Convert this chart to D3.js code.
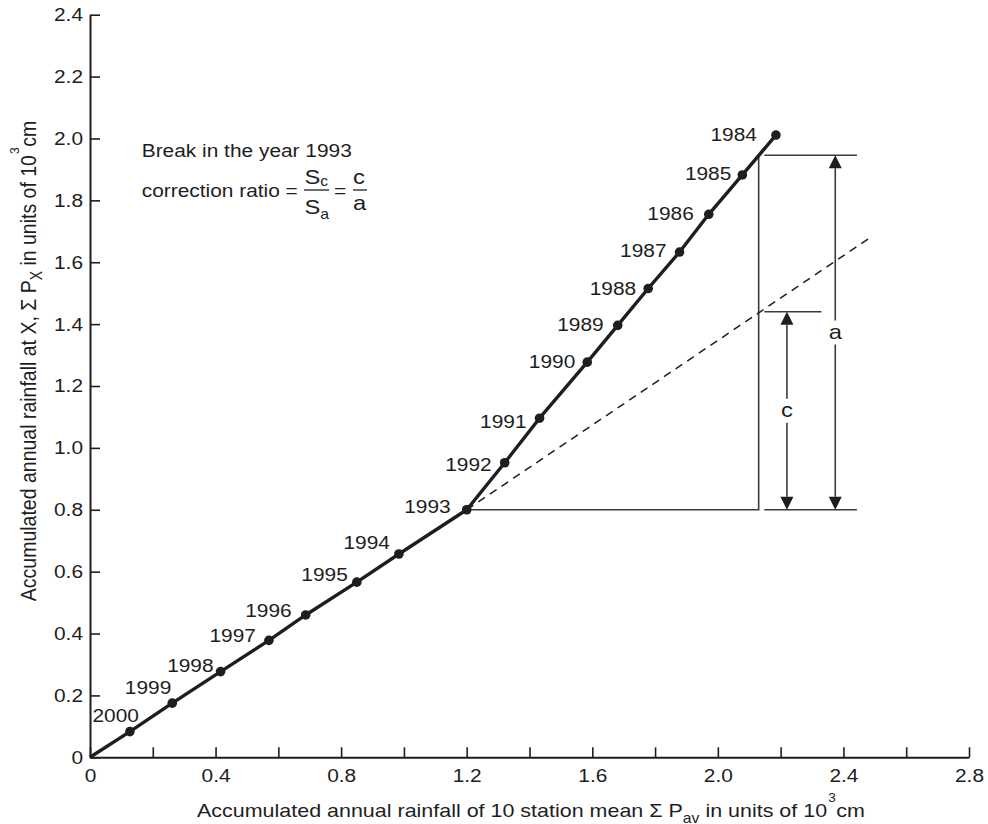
<!DOCTYPE html>
<html>
<head>
<meta charset="utf-8">
<script src="https://cdn.jsdelivr.net/npm/d3@7"></script>
<style>
  body { margin: 0; background: #fff; }
  svg { display: block; }
</style>
</head>
<body>
<svg id="chart" width="988" height="824"></svg>
<script>
// Double-mass curve: station X against the 10-station mean (units of 10^3 cm)
const years = [2000, 1999, 1998, 1997, 1996, 1995, 1994, 1993, 1992,
               1991, 1990, 1989, 1988, 1987, 1986, 1985, 1984];
const stationMean = [0.127, 0.262, 0.416, 0.570, 0.687, 0.850, 0.984, 1.200, 1.321,
                     1.432, 1.584, 1.681, 1.778, 1.878, 1.971, 2.078, 2.185];
const stationX = [0.083, 0.175, 0.277, 0.378, 0.460, 0.566, 0.657, 0.800, 0.952,
                  1.096, 1.277, 1.396, 1.515, 1.633, 1.755, 1.882, 2.011];

// Label offsets (px) of each year label's right end / baseline from its dot
const labelNudge = [[9, -10], [-1, -9], [-7, 0], [-13, 2], [-14, 2], [-9, -1], [-9, -5],
                    [-16, 3], [-13, 8], [-13, 10], [-12, 6], [-14, 6], [-12, 6], [-13, 5],
                    [-15, 6], [-11, 5], [-19, 6]];

// Axis ticks
const xTicks = [0, 0.2, 0.4, 0.6, 0.8, 1.0, 1.2, 1.4, 1.6, 1.8, 2.0, 2.2, 2.4, 2.6, 2.8];
const xTickLabels = ["0", "", "0.4", "", "0.8", "", "1.2", "", "1.6", "", "2.0", "", "2.4", "", "2.8"];
const yTicks = [0, 0.2, 0.4, 0.6, 0.8, 1.0, 1.2, 1.4, 1.6, 1.8, 2.0, 2.2, 2.4];
const yTickLabels = ["0", "0.2", "0.4", "0.6", "0.8", "1.0", "1.2", "1.4", "1.6", "1.8", "2.0", "2.2", "2.4"];

// Construction of the correction ratio (data units)
const trendEnd = [2.48, 1.676];      // end of the dashed extension of the pre-break trend
const refX = 2.13;                   // vertical reference line
const cTop = 1.44;                   // dashed trend at refX
const aTop = 1.946;                  // observed curve at refX
const extStartX = 2.148;             // start of the extension lines
const cExtEndX = 2.33;
const aExtEndX = 2.443;
const cArrowX = 2.22;
const aArrowX = 2.374;

const FONT = "'Liberation Sans', Arial, Helvetica, sans-serif";
const SX = 1.13;          // horizontal glyph stretch of all lettering
const INK = "#1e1e1e";
const THIN = "#3a3a3a";

const svg = d3.select("#chart");
const x = d3.scaleLinear().domain([0, 2.8]).range([90, 969]);
const y = d3.scaleLinear().domain([0, 2.4]).range([757.3, 14.7]);

// ---- axes ----
const gX = svg.append("g").attr("transform", `translate(0,${y(0)})`)
  .call(d3.axisBottom(x).tickValues(xTicks)
    .tickFormat((d, i) => xTickLabels[i])
    .tickSizeInner(-10).tickSizeOuter(0).tickPadding(11.3));
const gY = svg.append("g").attr("transform", `translate(${x(0)},0)`)
  .call(d3.axisLeft(y).tickValues(yTicks)
    .tickFormat((d, i) => yTickLabels[i])
    .tickSizeInner(-10).tickSizeOuter(0).tickPadding(6.2));

[gX, gY].forEach(g => {
  g.select(".domain").attr("stroke", INK).attr("stroke-width", 2);
  g.selectAll(".tick line").attr("stroke", INK).attr("stroke-width", 1.6);
  g.selectAll(".tick text")
    .attr("fill", INK).attr("font-family", FONT).attr("font-size", 18.5)
    .attr("transform", `scale(${SX},1)`);
});

// ---- construction lines ----
const dim = svg.append("g").attr("stroke", THIN).attr("stroke-width", 1.6).attr("fill", "none");
const breakIdx = years.indexOf(1993);
const bx = stationMean[breakIdx], by = stationX[breakIdx];

// horizontal at the break level, then vertical reference line
dim.append("path").attr("d", `M${x(bx)},${y(by)}H${x(refX)}V${y(aTop)}`);
// extension lines
dim.append("line").attr("x1", x(extStartX)).attr("x2", x(aExtEndX)).attr("y1", y(by)).attr("y2", y(by));
dim.append("line").attr("x1", x(extStartX)).attr("x2", x(cExtEndX)).attr("y1", y(cTop)).attr("y2", y(cTop));
dim.append("line").attr("x1", x(extStartX)).attr("x2", x(aExtEndX)).attr("y1", y(aTop)).attr("y2", y(aTop));

// dashed extension of the pre-break trend
svg.append("line")
  .attr("x1", x(bx)).attr("y1", y(by)).attr("x2", x(trendEnd[0])).attr("y2", y(trendEnd[1]))
  .attr("stroke", INK).attr("stroke-width", 1.5).attr("stroke-dasharray", "8,6");

// double-headed dimension arrows with a label gap
function dimArrow(xv, y0v, y1v, label) {
  const px = x(xv), yb = y(y0v), yt = y(y1v), ym = (yb + yt) / 2;
  const ah = 13, aw = 6.5, gap = 12;
  const g = svg.append("g");
  g.append("line").attr("x1", px).attr("x2", px).attr("y1", yt + ah).attr("y2", ym - gap)
    .attr("stroke", THIN).attr("stroke-width", 1.6);
  g.append("line").attr("x1", px).attr("x2", px).attr("y1", ym + gap).attr("y2", yb - ah)
    .attr("stroke", THIN).attr("stroke-width", 1.6);
  g.append("path").attr("d", `M${px},${yt}L${px - aw},${yt + ah}L${px + aw},${yt + ah}Z`).attr("fill", INK);
  g.append("path").attr("d", `M${px},${yb}L${px - aw},${yb - ah}L${px + aw},${yb - ah}Z`).attr("fill", INK);
  g.append("text").text(label)
    .attr("transform", `translate(${px},${ym}) scale(${SX},1)`)
    .attr("text-anchor", "middle").attr("dy", "0.3em")
    .attr("font-family", FONT).attr("font-size", 21).attr("fill", INK);
}
dimArrow(cArrowX, by, cTop, "c");
dimArrow(aArrowX, by, aTop, "a");

// ---- double-mass curve ----
const pts = years.map((yr, i) => ({ yr, mx: stationMean[i], px: stationX[i], nudge: labelNudge[i] }));
const line = d3.line().x(d => x(d[0])).y(d => y(d[1]));
svg.append("path")
  .datum([[0, 0]].concat(pts.map(d => [d.mx, d.px])))
  .attr("d", line)
  .attr("fill", "none").attr("stroke", INK).attr("stroke-width", 3.4)
  .attr("stroke-linejoin", "round");

svg.append("g").selectAll("circle").data(pts).join("circle")
  .attr("cx", d => x(d.mx)).attr("cy", d => y(d.px)).attr("r", 4.8).attr("fill", INK);

svg.append("g").selectAll("text").data(pts).join("text")
  .text(d => d.yr)
  .attr("transform", d => `translate(${x(d.mx) + d.nudge[0]},${y(d.px) + d.nudge[1]}) scale(${SX},1)`)
  .attr("text-anchor", "end")
  .attr("font-family", FONT).attr("font-size", 18.5).attr("fill", INK);

// ---- correction-ratio note ----
const note = svg.append("g").attr("font-family", FONT).attr("fill", INK);
note.append("text").text("Break in the year 1993")
  .attr("transform", `translate(141.7,156.7) scale(${SX},1)`).attr("font-size", 18.5);
note.append("text").text("correction ratio =")
  .attr("transform", `translate(141.7,197) scale(${SX},1)`).attr("font-size", 18.5);

function fracPart(xPos, yPos, main, sub, subDy) {
  const t = note.append("text").attr("transform", `translate(${xPos},${yPos}) scale(${SX},1)`)
    .attr("font-size", 21);
  t.append("tspan").text(main);
  if (sub) t.append("tspan").text(sub).attr("font-size", 14).attr("dy", subDy);
}
fracPart(304.5, 184, "S", "c", 2);
fracPart(304.5, 214, "S", "a", 5);
note.append("line").attr("x1", 304).attr("x2", 329).attr("y1", 190).attr("y2", 190)
  .attr("stroke", INK).attr("stroke-width", 1.3);
note.append("text").text("=")
  .attr("transform", `translate(334,197) scale(${SX},1)`).attr("font-size", 18.5);
fracPart(353, 183.5, "c");
fracPart(353, 209.5, "a");
note.append("line").attr("x1", 353).attr("x2", 367).attr("y1", 190).attr("y2", 190)
  .attr("stroke", INK).attr("stroke-width", 1.3);

// ---- axis titles ----
const xt = svg.append("text")
  .attr("transform", `translate(531,817) scale(${SX},1)`)
  .attr("text-anchor", "middle")
  .attr("font-family", FONT).attr("font-size", 19).attr("fill", INK);
xt.append("tspan").text("Accumulated annual rainfall of 10 station mean \u03A3 P");
xt.append("tspan").text("av").attr("font-size", 14).attr("dy", 5.5);
xt.append("tspan").text(" in units of 10").attr("dy", -5.5);
xt.append("tspan").text("3").attr("font-size", 12).attr("dy", -15).attr("dx", 1);
xt.append("tspan").text("cm").attr("dy", 15).attr("dx", 0.5);

const yt = svg.append("text")
  .attr("transform", `translate(36,361) scale(${SX},1) rotate(-90)`)
  .attr("text-anchor", "middle")
  .attr("font-family", FONT).attr("font-size", 19.5).attr("fill", INK);
yt.append("tspan").text("Accumulated annual rainfall at X, \u03A3 P");
yt.append("tspan").text("X").attr("font-size", 14).attr("dy", 5);
yt.append("tspan").text(" in units of 10").attr("dy", -5);
yt.append("tspan").text("3").attr("font-size", 12).attr("dy", -15).attr("dx", 1);
yt.append("tspan").text("cm").attr("dy", 15).attr("dx", 0.5);
</script>
</body>
</html>
